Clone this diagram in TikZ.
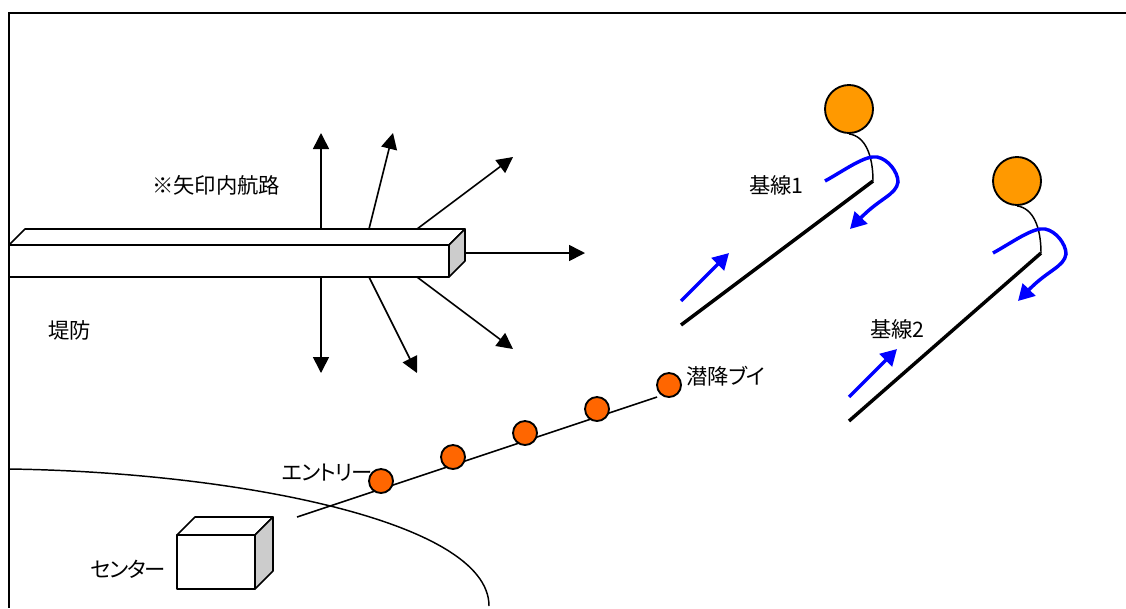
\documentclass[tikz,border=0pt]{standalone}
\usepackage{fontspec}
\setmainfont{Noto Sans CJK JP}
\newfontfamily\kanafont[RawFeature=+palt,LetterSpace=-5]{Noto Sans CJK JP}
\usetikzlibrary{arrows.meta}
\definecolor{buoyc}{HTML}{FF6600}
\definecolor{ballc}{HTML}{FF9900}
\definecolor{sidec}{HTML}{CCCCCC}
\definecolor{blueline}{HTML}{0000FF}
\tikzset{
  px/.style={x=0.75pt,y=-0.75pt},
  edge/.style={draw=black,line width=1.2pt,line join=round},
  frameline/.style={draw=black,line width=1.5pt},
  route/.style={draw=black,line width=1.2pt,-{Triangle[length=12pt,width=12pt]}},
  thin curve/.style={draw=black,line width=1.1pt},
  base/.style={draw=black,line width=2.6pt},
  bluearrow/.style={draw=blueline,line width=2.6pt,-{Triangle[length=12pt,width=13pt]}},
  label/.style={font=\fontsize{16pt}{16pt}\selectfont,inner sep=0pt,anchor=west,text=black},
  buoy/.style={circle,draw=black,line width=1.4pt,fill=buoyc,minimum size=18pt,inner sep=0pt},
  ball/.style={circle,draw=black,line width=1.4pt,fill=ballc,minimum size=36pt,inner sep=0pt},
}
\begin{document}
\begin{tikzpicture}[px]
\useasboundingbox (0,0) rectangle (1126,608);
\fill[white] (0,0) rectangle (1126,608);
% frame
\coordinate (fa) at (1126,13);
\coordinate (fb) at (9,13);
\coordinate (fc) at (9,608);
\draw[frameline] (fa) -- (fb) -- (fc);
% route arrows
\coordinate (u1s) at (321,229); \coordinate (u1e) at (321,133);
\coordinate (u2s) at (369,229); \coordinate (u2e) at (393,133);
\coordinate (u3s) at (417,229); \coordinate (u3e) at (513,157);
\coordinate (rs) at (465,253);  \coordinate (re) at (585,253);
\coordinate (d1s) at (321,277); \coordinate (d1e) at (321,373);
\coordinate (d2s) at (369,277); \coordinate (d2e) at (417,373);
\coordinate (d3s) at (417,277); \coordinate (d3e) at (513,349);
\foreach \a/\b in {u1s/u1e,u2s/u2e,u3s/u3e,rs/re,d1s/d1e,d2s/d2e,d3s/d3e}
  \draw[route] (\a) -- (\b);
% breakwater
\fill[white,edge] (9,245) -- (25,229) -- (465,229) -- (449,245) -- cycle;
\fill[sidec,edge] (449,245) -- (465,229) -- (465,261) -- (449,277) -- cycle;
\fill[white,edge] (9,245) rectangle (449,277);
% shore
\coordinate (sa) at (9,469);
\coordinate (sb) at (489,606);
\draw[thin curve] (sa) .. controls (230,472) and (489,520) .. (sb);
% centre box
\fill[white,edge] (177,535) -- (195,517) -- (273,517) -- (255,535) -- cycle;
\fill[sidec,edge] (255,535) -- (273,517) -- (273,571) -- (255,589) -- cycle;
\fill[white,edge] (177,535) rectangle (255,589);
% buoy line
\coordinate (la) at (297,517);
\coordinate (lb) at (657,397);
\draw[edge] (la) -- (lb);
\node[buoy] (b1) at (381,481) {};
\node[buoy] (b2) at (453,457) {};
\node[buoy] (b3) at (525,433) {};
\node[buoy] (b4) at (597,409) {};
\node[buoy] (b5) at (669,385) {};
% base 1
\node[ball] (ball1) at (849,109) {};
\coordinate (t1) at (873,181);
\coordinate (e1) at (681,325);
\draw[thin curve] (ball1.south) .. controls (865,136) and (873,155) .. (t1);
\draw[base] (e1) -- (t1);
\coordinate (ua1) at (681,301); \coordinate (ub1) at (729,253);
\draw[bluearrow] (ua1) -- (ub1);
\coordinate (ca1) at (825,181); \coordinate (cb1) at (850,229);
\draw[bluearrow] (ca1) .. controls (845,170) and (865,155) .. (877,157)
  .. controls (888,159) and (898,172) .. (898,182)
  .. controls (896,195) and (880,198) .. (cb1);
% base 2
\node[ball] (ball2) at (1017,181) {};
\coordinate (t2) at (1041,253);
\coordinate (e2) at (849,421);
\draw[thin curve] (ball2.south) .. controls (1033,208) and (1041,227) .. (t2);
\draw[base] (e2) -- (t2);
\coordinate (ua2) at (849,397); \coordinate (ub2) at (897,349);
\draw[bluearrow] (ua2) -- (ub2);
\coordinate (ca2) at (993,253); \coordinate (cb2) at (1018,301);
\draw[bluearrow] (ca2) .. controls (1013,242) and (1033,227) .. (1045,229)
  .. controls (1056,231) and (1066,244) .. (1066,254)
  .. controls (1064,267) and (1048,270) .. (cb2);
% labels
\node[label] (l1) at (152,185) {※矢印内航路};
\node[label] (l2) at (48,330) {堤防};
\node[label] (l3) at (749,185) {基線1};
\node[label] (l4) at (870,329) {基線2};
\node[label] (l5) at (686,376) {潜降{\kanafont ブイ}};
\node[label] (l6) at (282,473) {\kanafont エントリー};
\node[label] (l7) at (90,569) {\kanafont センター};
\end{tikzpicture}
\end{document}
